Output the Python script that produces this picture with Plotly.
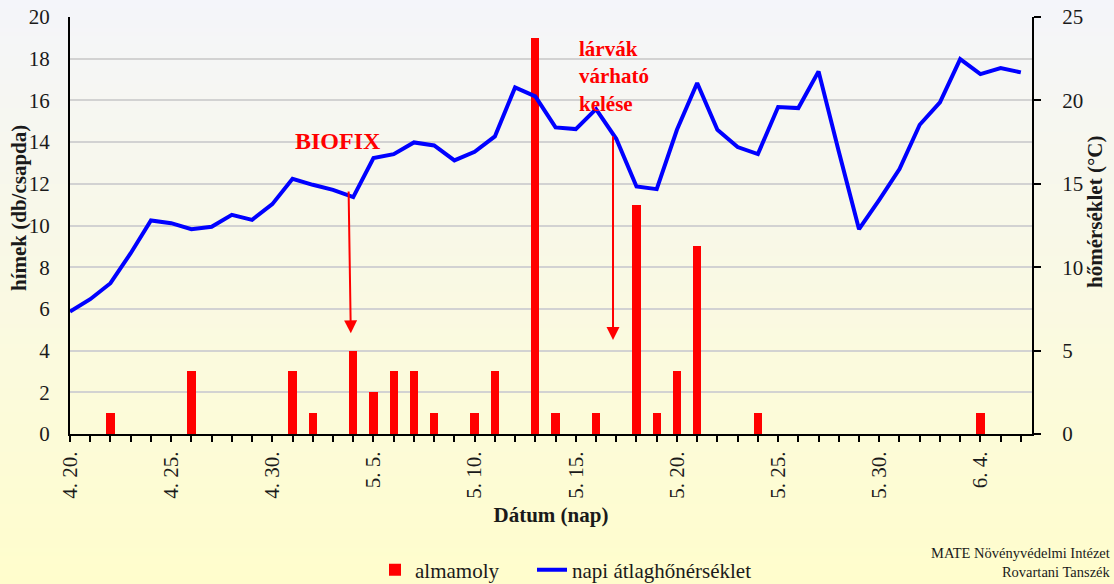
import plotly.graph_objects as go

# ---------------- data ----------------
dates = [
    "4. 20.", "4. 21.", "4. 22.", "4. 23.", "4. 24.", "4. 25.", "4. 26.", "4. 27.",
    "4. 28.", "4. 29.", "4. 30.", "5. 1.", "5. 2.", "5. 3.", "5. 4.", "5. 5.",
    "5. 6.", "5. 7.", "5. 8.", "5. 9.", "5. 10.", "5. 11.", "5. 12.", "5. 13.",
    "5. 14.", "5. 15.", "5. 16.", "5. 17.", "5. 18.", "5. 19.", "5. 20.", "5. 21.",
    "5. 22.", "5. 23.", "5. 24.", "5. 25.", "5. 26.", "5. 27.", "5. 28.", "5. 29.",
    "5. 30.", "5. 31.", "6. 1.", "6. 2.", "6. 3.", "6. 4.", "6. 5.", "6. 6.",
]
almamoly = [
    0, 0, 1, 0, 0, 0, 3, 0, 0, 0, 0, 3, 1, 0, 4, 2,
    3, 3, 1, 0, 1, 3, 0, 19, 1, 0, 1, 0, 11, 1, 3, 9,
    0, 0, 1, 0, 0, 0, 0, 0, 0, 0, 0, 0, 0, 1, 0, 0,
]
temperature = [
    7.34, 8.08, 9.04, 10.84, 12.8, 12.64, 12.28, 12.42, 13.14, 12.84, 13.78, 15.3,
    14.94, 14.64, 14.2, 16.54, 16.78, 17.48, 17.3, 16.4, 16.92, 17.84, 20.78, 20.24,
    18.38, 18.28, 19.48, 17.7, 14.84, 14.68, 18.24, 21.04, 18.24, 17.2, 16.78, 19.6,
    19.54, 21.74, 16.94, 12.28, 14.04, 15.88, 18.54, 19.88, 22.48, 21.58, 21.94, 21.68,
]
label_step = 5
left_ticks = [0, 2, 4, 6, 8, 10, 12, 14, 16, 18, 20]
right_ticks = [0, 5, 10, 15, 20, 25]

# ---------------- layout constants ----------------
W, H = 1114, 584
ML, MR, MT, MB = 70, 82, 17, 150
PW, PH = W - ML - MR, H - MT - MB
SERIF = "Liberation Serif, Times New Roman, serif"
TXT = "#1a1a1a"

idx = list(range(len(dates)))
tick_text = [d if i % label_step == 0 else "" for i, d in enumerate(dates)]


def px_x(px):
    return (px - ML) / PW


def px_y(py):
    return (H - MB - py) / PH


fig = go.Figure()
fig.add_trace(go.Bar(
    x=idx, y=almamoly, name="almamoly", marker_color="#ff0000",
    marker_line_width=0, width=0.41, yaxis="y", legend="legend",
))
fig.add_trace(go.Scatter(
    x=idx, y=temperature, name="napi átlaghőnérséklet", mode="lines",
    line=dict(color="#0000ff", width=4), yaxis="y2", legend="legend2",
))

# background gradient (light grey-blue at top -> light yellow at bottom)
top_c = (244, 245, 250)
bot_c = (255, 253, 204)
bands = 146
shapes = []
for k in range(bands):
    t = (k + 0.5) / bands
    c = tuple(round(top_c[j] + (bot_c[j] - top_c[j]) * t) for j in range(3))
    y0 = k * H / bands
    y1 = (k + 1) * H / bands + 0.6
    shapes.append(dict(
        type="rect", xref="paper", yref="paper", layer="below",
        x0=px_x(-5), x1=px_x(W + 5), y0=px_y(y1), y1=px_y(y0),
        fillcolor="rgb(%d,%d,%d)" % c, line_width=0,
    ))

annotations = [
    dict(text="BIOFIX", x=13.24, y=14.07, xref="x", yref="y", showarrow=False,
         font=dict(family=SERIF, size=24, color="#ff0000", weight="bold")),
    dict(text="", x=13.88, y=4.83, ax=13.77, ay=11.7, xref="x", yref="y",
         axref="x", ayref="y", showarrow=True, arrowhead=2, arrowsize=1.3,
         arrowwidth=2, arrowcolor="#ff0000"),
    dict(text="lárvák<br>várható<br>kelése", x=25.07, y=17.14, xref="x", yref="y",
         xanchor="left", yanchor="middle", align="left", showarrow=False,
         font=dict(family=SERIF, size=21, color="#ff0000", weight="bold")),
    dict(text="", x=26.84, y=4.51, ax=26.84, ay=14.34, xref="x", yref="y",
         axref="x", ayref="y", showarrow=True, arrowhead=2, arrowsize=1.3,
         arrowwidth=2, arrowcolor="#ff0000"),
    dict(text="hímek (db/csapda)", x=px_x(19), y=px_y(208), xref="paper", yref="paper",
         xanchor="center", yanchor="middle", textangle=-90, showarrow=False,
         font=dict(family=SERIF, size=21, color=TXT, weight="bold")),
    dict(text="hőmérséklet (°C)", x=px_x(1095), y=px_y(212), xref="paper", yref="paper",
         xanchor="center", yanchor="middle", textangle=-90, showarrow=False,
         font=dict(family=SERIF, size=21, color=TXT, weight="bold")),
    dict(text="MATE Növényvédelmi Intézet<br>Rovartani Tanszék", x=px_x(1113), y=px_y(562),
         xref="paper", yref="paper", xanchor="right", yanchor="middle", align="right",
         showarrow=False, font=dict(family=SERIF, size=14.5, color=TXT)),
]

legend_common = dict(orientation="h", xanchor="left", y=px_y(570), yanchor="middle",
                     bgcolor="rgba(0,0,0,0)", font=dict(family=SERIF, size=21, color=TXT))

fig.update_layout(
    width=W, height=H,
    margin=dict(l=ML, r=MR, t=MT, b=MB, autoexpand=False),
    paper_bgcolor="#fbfbe6", plot_bgcolor="rgba(0,0,0,0)",
    font=dict(family=SERIF, size=21, color=TXT),
    bargap=0,
    shapes=shapes,
    annotations=annotations,
    showlegend=True,
    legend=dict(x=px_x(375), **legend_common),
    legend2=dict(x=px_x(532), **legend_common),
    xaxis=dict(
        range=[0, 47.55], tickmode="array", tickvals=idx, ticktext=tick_text,
        tickangle=-90, ticks="outside", ticklen=6, tickwidth=1.5, tickcolor="#000",
        showline=True, linecolor="#000", linewidth=2, showgrid=False, zeroline=False,
        ticklabelstandoff=1, tickfont=dict(family=SERIF, size=21, color=TXT),
        title=dict(text="Dátum (nap)", standoff=10,
                   font=dict(family=SERIF, size=21, color=TXT, weight="bold")),
        automargin=False,
    ),
    yaxis=dict(
        range=[0, 20], tickmode="array", tickvals=left_ticks,
        showline=True, linecolor="#000", linewidth=2, ticks="",
        showgrid=True, gridcolor="#d2d2d2", gridwidth=1.5, zeroline=False,
        ticklabelstandoff=14, tickfont=dict(family=SERIF, size=21, color=TXT),
        automargin=False,
    ),
    yaxis2=dict(
        range=[0, 25], tickmode="array", tickvals=right_ticks, overlaying="y", side="right",
        showline=True, linecolor="#000", linewidth=2, ticks="outside", ticklen=7,
        tickwidth=2, tickcolor="#000", showgrid=False, zeroline=False,
        ticklabelstandoff=17, tickfont=dict(family=SERIF, size=21, color=TXT),
        automargin=False,
    ),
)

fig.write_html("out.html", config={"displayModeBar": False},
               post_script="document.body.style.margin='0px';")
